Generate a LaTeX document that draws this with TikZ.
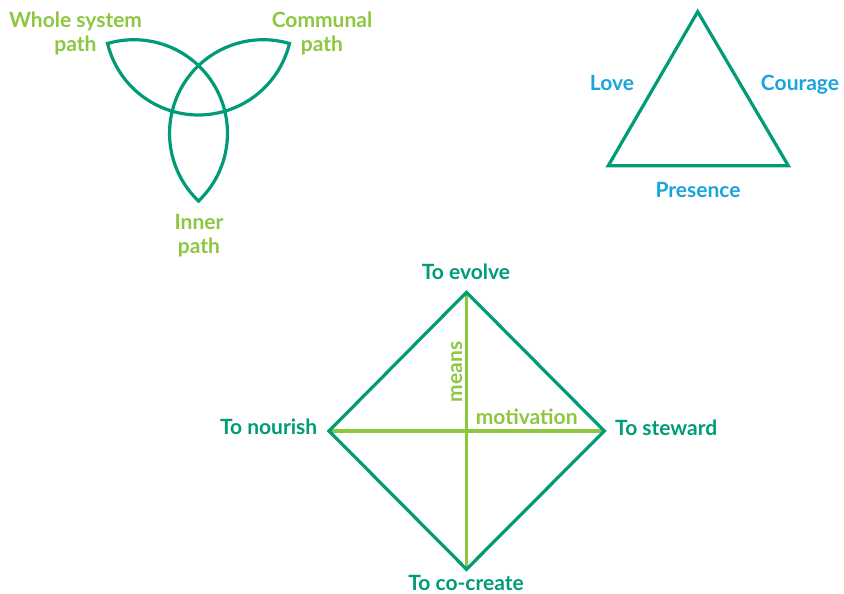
\documentclass[tikz,border=0pt]{standalone}
\usepackage{fontspec}
\setmainfont{Lato}
\usetikzlibrary{calc}
\definecolor{mteal}{HTML}{009B77}
\definecolor{mlime}{HTML}{8DC63F}
\definecolor{mblue}{HTML}{1BA3DB}
\tikzset{
  shapeline/.style={draw=mteal, line width=3.2pt, line join=miter},
  crossline/.style={draw=mlime, line width=3.1pt},
  lbl/.style={font=\fontsize{21}{24}\selectfont\bfseries, inner sep=0pt},
  limelbl/.style={lbl, text=mlime, align=center},
  bluelbl/.style={lbl, text=mblue},
  teallbl/.style={lbl, text=mteal},
}
\begin{document}
\begin{tikzpicture}[x=1pt,y=1pt]
\useasboundingbox (0,0) rectangle (844,594);
% ---------- triquetra ----------
\coordinate (O) at (198.5,498);
\coordinate (whole) at ($(O)+(150:105)$);
\coordinate (communal) at ($(O)+(30:105)$);
\coordinate (inner) at ($(O)+(270:105)$);
\draw[shapeline] (whole)
  arc[start angle=193.67, end angle=346.33, radius=93.6]
  arc[start angle=73.67, end angle=226.33, radius=93.6]
  arc[start angle=313.67, end angle=466.33, radius=93.6] -- cycle;
\node[limelbl] (lwhole) at (75.5,561) {Whole system\\path};
\node[limelbl] (lcommunal) at (322,561) {Communal\\path};
\node[limelbl] (linner) at (199,358) {Inner\\path};
% ---------- triangle ----------
\coordinate (tA) at (697.7,582.3);
\coordinate (tL) at (608.3,428.3);
\coordinate (tR) at (788.3,428.3);
\draw[shapeline] (tA) -- (tR) -- (tL) -- cycle;
\node[bluelbl, anchor=base] (love) at (612,503) {Love};
\node[bluelbl, anchor=base] (courage) at (800,503) {Courage};
\node[bluelbl, anchor=base] (presence) at (698,396) {Presence};
% ---------- diamond ----------
\coordinate (dT) at (466.5,301.7);
\coordinate (dR) at (604.3,163);
\coordinate (dB) at (466.5,24.7);
\coordinate (dL) at (329,163);
\draw[crossline] (dT) -- (dB);
\draw[crossline] (dL) -- (dR);
\draw[shapeline] (dT) -- (dR) -- (dB) -- (dL) -- cycle;
\node[teallbl, anchor=base] (evolve) at (466,314) {To evolve};
\node[teallbl, anchor=base east] (nourish) at (317.5,159) {To nourish};
\node[teallbl, anchor=base west] (steward) at (615,158) {To steward};
\node[teallbl, anchor=base] (cocreate) at (466,3) {To co-create};
\node[lbl, text=mlime, anchor=base] (motivation) at (526.7,169) {motivation};
\node[lbl, text=mlime, anchor=base, rotate=90] (means) at (462,222) {means};
\end{tikzpicture}
\end{document}
